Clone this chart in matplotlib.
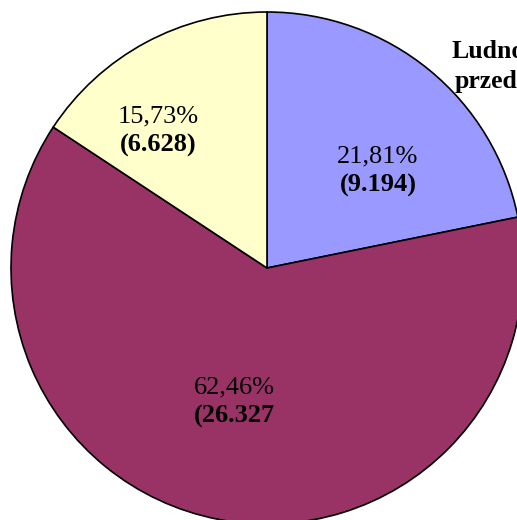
import matplotlib
matplotlib.use("Agg")
from matplotlib import pyplot as plt

# data (clockwise from the top)
values = [9.194, 26.327, 6.628]
value_labels = ["(9.194)", "(26.327", "(6.628)"]
colors = ["#9999FF", "#993366", "#FFFFCC"]
title_lines = ["Ludność", "przedprodukcyjna"]

plt.rcParams['font.family'] = ['Liberation Serif', 'DejaVu Serif']

fig = plt.figure(figsize=(5.17, 5.20), dpi=100)
ax = fig.add_axes([0, 0, 1, 1])

ax.pie(values, colors=colors, startangle=90, counterclock=False,
       center=(267, 252), radius=256, frame=True,
       wedgeprops=dict(edgecolor='black', linewidth=1.2))

# pie resets the limits, so set them afterwards (pixel units)
ax.set_xlim(0, 517)
ax.set_ylim(0, 520)
ax.set_aspect('equal')
ax.axis('off')

total = sum(values)
pcts = [f"{v / total * 100:.2f}".replace('.', ',') + "%" for v in values]

# label spots: x centre, baseline of first line (pixel coords, y from bottom)
spots = [(378, 358), (234, 127), (158, 398)]
for (x, y), p, lab in zip(spots, pcts, value_labels):
    ax.text(x, y, p, ha='center', va='baseline', fontsize=19)
    ax.text(x, y - 30, lab, ha='center', va='baseline', fontsize=19,
            fontweight='bold')

# title, cut by the right edge as in the original
ax.text(452, 462, title_lines[0], ha='left', va='baseline', fontsize=18.5,
        fontweight='bold')
ax.text(455, 432, title_lines[1], ha='left', va='baseline', fontsize=18.5,
        fontweight='bold')

fig.savefig("out.png", dpi=100)
